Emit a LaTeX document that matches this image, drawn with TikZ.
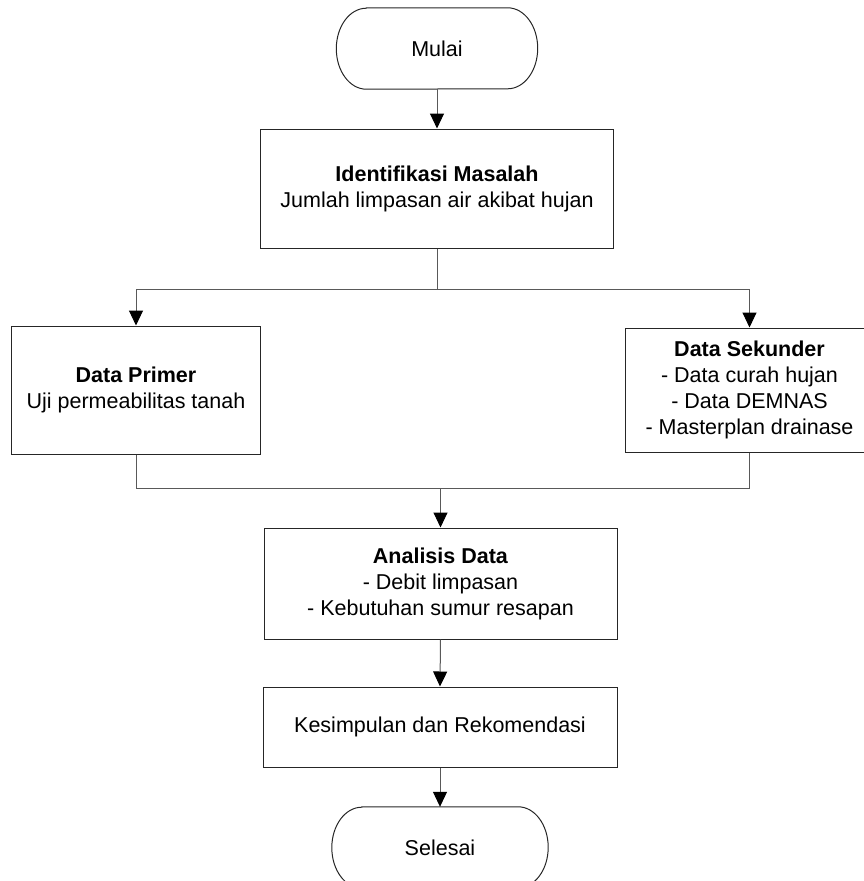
\documentclass[tikz,border=0pt]{standalone}
\usepackage{fontspec}
\setmainfont{Liberation Sans}
\usetikzlibrary{arrows.meta,calc}
\begin{document}
\begin{tikzpicture}[x=1pt,y=1pt,
  every node/.style={font=\fontsize{21.5}{26}\selectfont},
  box/.style={draw=black!85,line width=1pt,align=center,inner sep=0pt},
  termnode/.style={inner sep=0pt,minimum width=#1,minimum height=81pt},
  termline/.style={draw=black!85,line width=1pt},
  conn/.style={draw=black!65,line width=1pt},
  arr/.style={conn,-{Triangle[length=15pt,width=14pt,color=black]}}
]
\useasboundingbox (0,0) rectangle (863,-881);

% terminators
\node[termnode=201pt] (mulai) at (437,-48.5) {Mulai};
\draw[termline] ($(mulai.north west)+(30pt,0)$) -- ($(mulai.north east)+(-30pt,0)$)
  arc[start angle=90,end angle=-90,x radius=30pt,y radius=40.5pt]
  -- ($(mulai.south west)+(30pt,0)$)
  arc[start angle=270,end angle=90,x radius=30pt,y radius=40.5pt] -- cycle;

\node[box,minimum width=353pt,minimum height=119pt] (ident) at (437,-188.5)
  {\textbf{Identifikasi Masalah}\\Jumlah limpasan air akibat hujan};

\node[box,minimum width=249.5pt,minimum height=128pt] (primer) at (136,-390)
  {\textbf{Data Primer}\\Uji permeabilitas tanah};

\node[box,minimum width=249pt,minimum height=124pt] (sekunder) at (749.5,-390)
  {\textbf{Data Sekunder}\\- Data curah hujan\\- Data DEMNAS\\- Masterplan drainase};

\node[box,minimum width=353pt,minimum height=111pt] (analisis) at (440.5,-583.5)
  {\textbf{Analisis Data}\\- Debit limpasan\\- Kebutuhan sumur resapan};

\node[box,minimum width=354pt,minimum height=80pt] (kesimpulan) at (440,-727)
  {Kesimpulan dan Rekomendasi};

\node[termnode=216pt] (selesai) at (440,-847.5) {Selesai};
\draw[termline] ($(selesai.north west)+(30pt,0)$) -- ($(selesai.north east)+(-30pt,0)$)
  arc[start angle=90,end angle=-90,x radius=30pt,y radius=40.5pt]
  -- ($(selesai.south west)+(30pt,0)$)
  arc[start angle=270,end angle=90,x radius=30pt,y radius=40.5pt] -- cycle;

% junction points
\coordinate (split) at (437,-289);
\coordinate (merge) at (440.5,-488);

% connectors
\draw[arr] (mulai.south) -- (ident.north);
\draw[conn] (ident.south) -- (split);
\draw[arr] (split) -| (primer.north);
\draw[arr] (split) -| (sekunder.north);
\draw[conn] (primer.south) |- (merge);
\draw[conn] (sekunder.south) |- (merge);
\draw[arr] (merge) -- (analisis.north);
\draw[arr] (analisis.south) -- (kesimpulan.north);
\draw[arr] (kesimpulan.south) -- (selesai.north);
\end{tikzpicture}
\end{document}
